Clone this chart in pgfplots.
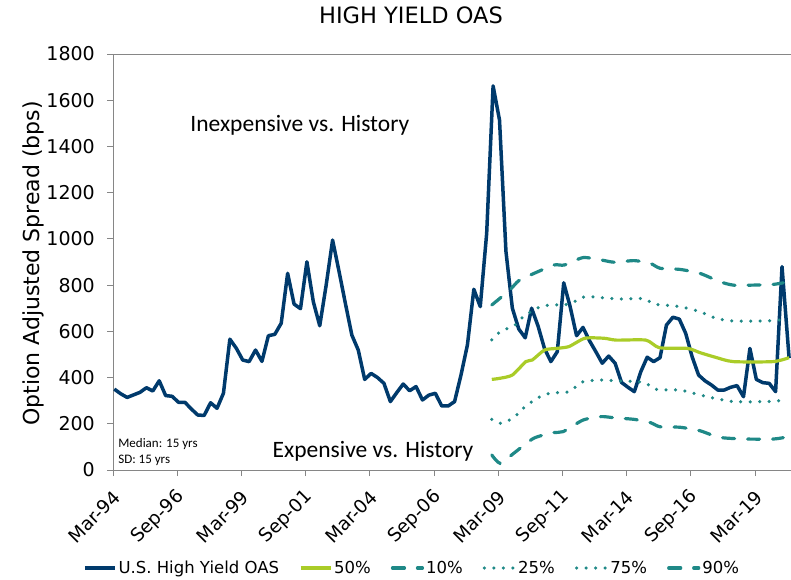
\documentclass[border=0pt]{standalone}
\usepackage{fontspec}
\setmainfont{DejaVu Sans}
\newfontfamily\calfont{Carlito}
\usepackage{pgfplots}
\pgfplotsset{compat=1.18}

\definecolor{oasblue}{RGB}{0,58,108}
\definecolor{medgreen}{RGB}{170,204,40}
\definecolor{pteal}{RGB}{31,137,135}
\definecolor{axgray}{RGB}{134,134,134}

% U.S. High Yield OAS, quarterly from Mar-94 (x = quarter index)
\pgfplotstableread{
x v
0 350
1 330
2 314
3 325
4 336
5 356
6 342
7 386
8 322
9 319
10 293
11 293
12 264
13 238
14 236
15 291
16 267
17 332
18 566
19 527
20 476
21 469
22 519
23 470
24 581
25 587
26 635
27 851
28 718
29 698
30 901
31 728
32 624
33 800
34 995
35 860
36 720
37 584
38 519
39 392
40 418
41 400
42 375
43 296
44 335
45 372
46 343
47 361
48 303
49 324
50 332
51 277
52 277
53 296
54 411
55 541
56 782
57 707
58 1024
59 1662
60 1514
61 946
62 700
63 610
64 572
65 700
66 623
67 526
68 469
69 512
70 810
71 707
72 581
73 617
74 560
75 512
76 462
77 493
78 462
79 379
80 358
81 339
82 425
83 488
84 469
85 486
86 627
87 661
88 653
89 591
90 490
91 411
92 386
93 368
94 346
95 346
96 358
97 365
98 317
99 526
100 392
101 378
102 375
103 339
104 880
105.1 485
}\oas

\pgfplotstableread{
x v
58.8 392
60.1 397
62.0 411
64.1 469
65.1 476
67.0 519
68.8 526
70.8 534
73.3 570
76.3 570
78.2 562
82.8 562
84.9 529
89.3 526
91.2 508
93.6 488
96.4 469
102.6 469
105.1 486
}\pfifty

\pgfplotstableread{
x v
58.8 65
60.1 29
62.2 72
65.3 137
68.4 162
69.9 166
73.0 216
75.8 231
77.9 226
81.0 219
83.5 205
85.0 187
88.1 185
91.2 170
94.3 141
98.5 134
102.6 134
104.2 140
}\pten

\pgfplotstableread{
x v
58.8 219
60.1 202
62.1 224
63.8 270
65.8 310
67.8 332
70.8 339
73.0 382
75.8 389
78.4 386
82.5 379
84.3 349
88.1 346
91.2 325
93.5 310
96.4 296
101.6 296
104.8 303
}\ptwentyfive

\pgfplotstableread{
x v
58.8 563
60.1 598
62.4 627
63.7 663
65.8 700
67.8 714
69.8 714
71.1 721
73.3 750
75.8 746
78.4 740
82.5 741
84.1 718
88.1 707
91.2 685
93.8 656
96.4 645
101.6 645
104.8 652
}\pseventyfive

\pgfplotstableread{
x v
58.8 714
61.6 779
63.0 819
65.4 851
68.5 887
70.1 887
73.0 919
75.8 909
77.9 899
81.0 906
83.5 894
85.0 873
88.1 868
91.2 851
94.3 815
96.4 800
99.5 800
102.6 803
104.2 810
}\pninety

\begin{document}
\begin{tikzpicture}
\useasboundingbox (0,0) rectangle (791pt,579pt);
\begin{axis}[
  at={(113pt,109pt)}, anchor=south west,
  width=678pt, height=416pt, scale only axis,
  xmin=-0.2, xmax=105.4, ymin=0, ymax=1800,
  axis x line*=bottom, axis y line*=left,
  axis line style={axgray, line width=0.9pt},
  tick style={axgray, line width=0.9pt},
  tick align=outside, major tick length=6pt,
  xtick={-0.2,9.8,19.8,29.8,39.8,49.8,59.8,69.8,79.8,89.8,99.8},
  xticklabels={Mar-94,Sep-96,Mar-99,Sep-01,Mar-04,Sep-06,Mar-09,Sep-11,Mar-14,Sep-16,Mar-19},
  ytick={0,200,400,600,800,1000,1200,1400,1600,1800},
  yticklabels={0,200,400,600,800,1000,1200,1400,1600,1800},
  extra y ticks={1800}, extra y tick labels={},
  extra y tick style={grid=major, major grid style={axgray, line width=0.9pt}},
  yticklabel style={font=\fontsize{19}{20}\selectfont, inner sep=0pt, xshift=-12pt},
  xticklabel style={font=\fontsize{18.5}{20}\selectfont, anchor=east, inner sep=0pt, xshift=4pt, yshift=-18pt, rotate=45},
  ylabel={Option Adjusted Spread (bps)},
  ylabel style={font=\fontsize{22}{24}\selectfont, at={(-0.1091,0.4964)}, anchor=base},
  title={HIGH YIELD OAS},
  title style={font=\fontsize{22.5}{24}\selectfont, at={(0.4395,1.0577)}, anchor=base},
  legend style={at={(0.441,-0.2356)}, anchor=center, draw=none, fill=none,
    legend columns=-1, font=\fontsize{16.5}{18}\selectfont,
    /tikz/every even column/.append style={column sep=18pt},
    inner sep=0pt},
  legend image code/.code={\draw[#1] (0pt,0pt) -- (30pt,0pt);},
  clip=false,
]
\addplot[oasblue, line width=3.5pt, line join=round] table[x=x,y=v] {\oas};
\addlegendentry{U.S. High Yield OAS}
\addplot[medgreen, line width=3.2pt, smooth, tension=0.4] table[x=x,y=v] {\pfifty};
\addlegendentry{50\%}
\addplot[pteal, line width=3.2pt, line cap=round, dash pattern=on 12pt off 13pt, smooth, tension=0.4] table[x=x,y=v] {\pten};
\addlegendentry{10\%}
\addplot[pteal, line width=3.5pt, line cap=round, dash pattern=on 0pt off 9.5pt, smooth, tension=0.4] table[x=x,y=v] {\ptwentyfive};
\addlegendentry{25\%}
\addplot[pteal, line width=3.5pt, line cap=round, dash pattern=on 0pt off 9.5pt, smooth, tension=0.4] table[x=x,y=v] {\pseventyfive};
\addlegendentry{75\%}
\addplot[pteal, line width=3.2pt, line cap=round, dash pattern=on 12pt off 13pt, smooth, tension=0.4] table[x=x,y=v] {\pninety};
\addlegendentry{90\%}

\node[font=\calfont\fontsize{23.5}{25}\selectfont, anchor=base] at (axis cs:28.9,1463) {Inexpensive vs. History};
\node[font=\calfont\fontsize{23.5}{25}\selectfont, anchor=base] at (axis cs:40.3,56) {Expensive vs. History};
\node[font=\calfont\fontsize{13}{14}\selectfont, anchor=base west, inner sep=0pt] at (axis cs:0.6,99) {Median: 15 yrs};
\node[font=\calfont\fontsize{13}{14}\selectfont, anchor=base west, inner sep=0pt] at (axis cs:0.6,30) {SD: 15 yrs};
\end{axis}
\end{tikzpicture}
\end{document}
